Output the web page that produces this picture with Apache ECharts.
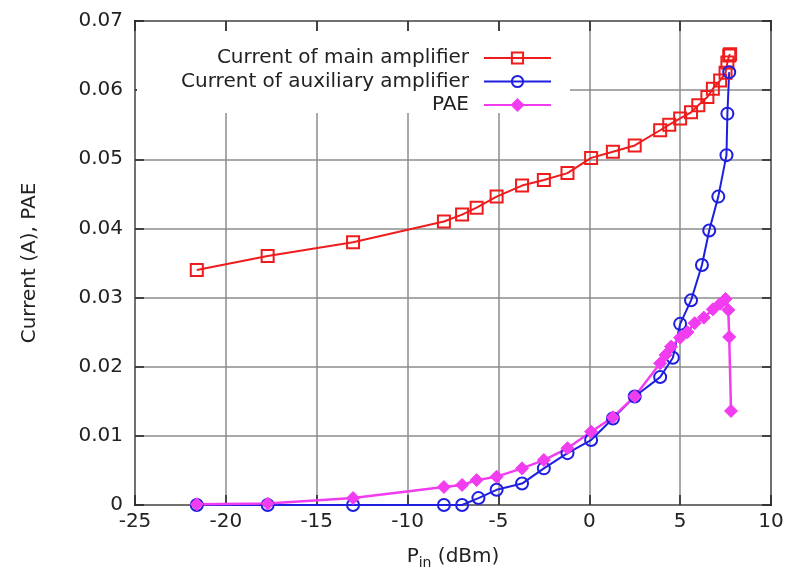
<!DOCTYPE html>
<html>
<head>
<meta charset="utf-8">
<script src="https://cdn.jsdelivr.net/npm/echarts@6/dist/echarts.min.js"></script>
<style>
  html, body { margin: 0; padding: 0; background: #fff; }
  #mycharts { width: 789px; height: 581px; }
</style>
</head>
<body>
<div id="mycharts"></div>
<script>
var xTicks = [-25, -20, -15, -10, -5, 0, 5, 10];
var yTicks = [0, 0.01, 0.02, 0.03, 0.04, 0.05, 0.06, 0.07];

var pinMain = [-21.6, -17.7, -13.0, -8.0, -7.0, -6.2, -5.1, -3.7, -2.5, -1.2, 0.1, 1.3, 2.5, 3.9, 4.4, 5.0, 5.6, 6.0, 6.5, 6.8, 7.2, 7.5, 7.6, 7.7, 7.75];
var curMain = [0.034, 0.036, 0.038, 0.041, 0.042, 0.043, 0.0446, 0.0462, 0.047, 0.048, 0.0502, 0.0511, 0.052, 0.0542, 0.055, 0.0559, 0.0568, 0.0578, 0.059, 0.0602, 0.0614, 0.0625, 0.064, 0.065, 0.0652];

var pinAux = [-21.6, -17.7, -13.0, -8.0, -7.0, -6.1, -5.1, -3.7, -2.5, -1.2, 0.1, 1.3, 2.5, 3.9, 4.6, 5.0, 5.6, 6.2, 6.6, 7.1, 7.55, 7.6, 7.7];
var curAux = [0, 0, 0, 0, 0, 0.001, 0.0022, 0.0031, 0.0053, 0.0075, 0.0094, 0.0125, 0.0157, 0.0185, 0.0213, 0.0262, 0.0296, 0.0347, 0.0397, 0.0446, 0.0506, 0.0566, 0.0626];

var pinPae = [-21.6, -17.7, -13.0, -8.0, -7.0, -6.2, -5.1, -3.7, -2.5, -1.2, 0.1, 1.3, 2.5, 3.9, 4.2, 4.5, 5.0, 5.4, 5.8, 6.3, 6.8, 7.2, 7.5, 7.65, 7.7, 7.8];
var pae = [0.0001, 0.0002, 0.001, 0.0026, 0.0029, 0.0036, 0.0041, 0.0053, 0.0065, 0.0082, 0.0106, 0.0127, 0.0157, 0.0205, 0.0217, 0.0229, 0.0242, 0.025, 0.0263, 0.0271, 0.0283, 0.0291, 0.0298, 0.0282, 0.0243, 0.0136];

var names = ["Current of main amplifier", "Current of auxiliary amplifier", "PAE"];

function pairs(xs, ys) {
  return xs.map(function (x, i) { return [x, ys[i]]; });
}

var font = "DejaVu Sans";
var myCharts = echarts.init(document.getElementById("mycharts"));

var tickStyle = { color: "#222", width: 1.5 };
var gridStyle = { color: "#8c8c8c", width: 1.5 };

var option = {
  animation: false,
  backgroundColor: "#fff",
  textStyle: { fontFamily: font },
  grid: {
    left: 135, right: 18, top: 21, bottom: 76,
    show: true, borderColor: "#222", borderWidth: 2
  },
  legend: {
    orient: "vertical",
    align: "right",
    right: 232,
    top: 43,
    itemWidth: 67,
    itemHeight: 14,
    itemGap: 3.5,
    data: names,
    formatter: "{n|{name}}",
    textStyle: {
      fontFamily: font, fontSize: 20, color: "#222",
      rich: { n: { fontFamily: font, fontSize: 20, lineHeight: 20, color: "#222", padding: [0, 10, 0, 0] } }
    }
  },
  graphic: [
    { type: "rect", left: 137, top: 31, z: 1, silent: true,
      shape: { width: 433, height: 82 }, style: { fill: "#fff" } }
  ],
  xAxis: [
    {
      type: "value", min: xTicks[0], max: xTicks[xTicks.length - 1], interval: 5,
      name: "{p|P}{s|in}{p| (dBm)}",
      nameLocation: "middle", nameGap: 39,
      nameTextStyle: {
        rich: {
          p: { fontFamily: font, fontSize: 20, color: "#222", lineHeight: 26 },
          s: { fontFamily: font, fontSize: 14, color: "#222", lineHeight: 26, padding: [12, 0, 0, 0] }
        }
      },
      axisLine: { show: false, onZero: false },
      axisTick: { inside: true, length: 10, lineStyle: tickStyle },
      axisLabel: { fontFamily: font, fontSize: 20, color: "#222", margin: 7 },
      splitLine: { show: true, lineStyle: gridStyle }
    },
    {
      type: "value", position: "top", min: xTicks[0], max: xTicks[xTicks.length - 1], interval: 5,
      axisLine: { show: false, onZero: false },
      axisTick: { inside: true, length: 10, lineStyle: tickStyle },
      axisLabel: { show: false },
      splitLine: { show: false }
    }
  ],
  yAxis: [
    {
      type: "value", min: yTicks[0], max: yTicks[yTicks.length - 1], interval: 0.01,
      name: "Current (A), PAE",
      nameLocation: "middle", nameGap: 95,
      nameTextStyle: { fontFamily: font, fontSize: 20, color: "#222" },
      axisLine: { show: false, onZero: false },
      axisTick: { inside: true, length: 9, lineStyle: tickStyle },
      axisLabel: { fontFamily: font, fontSize: 20, color: "#222", margin: 12 },
      splitLine: { show: true, lineStyle: gridStyle }
    },
    {
      type: "value", position: "right", min: yTicks[0], max: yTicks[yTicks.length - 1], interval: 0.01,
      axisLine: { show: false, onZero: false },
      axisTick: { inside: true, length: 9, lineStyle: tickStyle },
      axisLabel: { show: false },
      splitLine: { show: false }
    }
  ],
  series: [
    {
      name: names[0], type: "line", data: pairs(pinMain, curMain),
      color: "#ee1c1c",
      symbol: "rect", symbolSize: 12,
      lineStyle: { color: "#ee1c1c", width: 2 },
      itemStyle: { color: "rgba(255,255,255,0)", borderColor: "#ee1c1c", borderWidth: 2 }
    },
    {
      name: names[1], type: "line", data: pairs(pinAux, curAux),
      color: "#1f1fe0",
      symbol: "circle", symbolSize: 12,
      lineStyle: { color: "#1f1fe0", width: 2 },
      itemStyle: { color: "rgba(255,255,255,0)", borderColor: "#1f1fe0", borderWidth: 2 }
    },
    {
      name: names[2], type: "line", data: pairs(pinPae, pae),
      color: "#f23cf0",
      symbol: "diamond", symbolSize: 13,
      lineStyle: { color: "#f23cf0", width: 2.5 },
      itemStyle: { color: "#f23cf0", borderColor: "#f23cf0", borderWidth: 1 }
    }
  ]
};

myCharts.setOption(option);
</script>
</body>
</html>
